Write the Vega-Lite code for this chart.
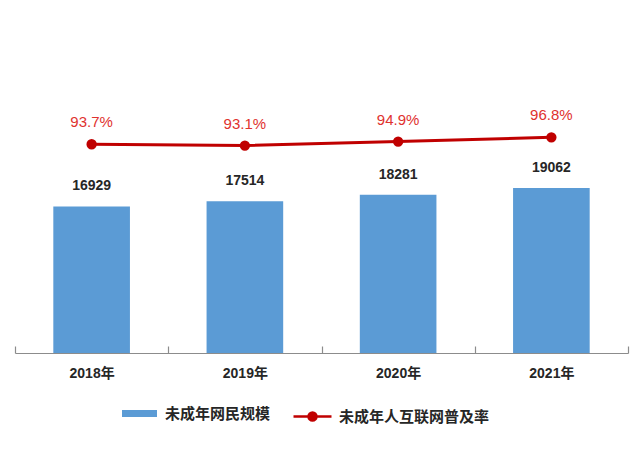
{
  "$schema": "https://vega.github.io/schema/vega-lite/v6.json",
  "autosize": {"type": "none"},
  "width": 613,
  "height": 313,
  "padding": {"left": 15, "top": 40, "right": 12, "bottom": 115},
  "background": "white",
  "config": {
    "view": {"stroke": null},
    "font": "Liberation Sans, Noto Sans CJK SC"
  },
  "data": {
    "values": [
      {"year": "2018年", "users": 16929, "rate": 93.7, "rateLabel": "93.7%"},
      {"year": "2019年", "users": 17514, "rate": 93.1, "rateLabel": "93.1%"},
      {"year": "2020年", "users": 18281, "rate": 94.9, "rateLabel": "94.9%"},
      {"year": "2021年", "users": 19062, "rate": 96.8, "rateLabel": "96.8%"}
    ]
  },
  "encoding": {
    "x": {
      "field": "year",
      "type": "nominal",
      "sort": null,
      "scale": {"paddingInner": 0, "paddingOuter": 0},
      "axis": {
        "title": null,
        "labelAngle": 0,
        "ticks": true,
        "tickBand": "extent",
        "tickSize": -7,
        "tickColor": "#8c8c8c",
        "tickWidth": 1.2,
        "domainColor": "#8c8c8c",
        "domainWidth": 1.2,
        "labelPadding": 20,
        "labelFontSize": 14,
        "labelFontWeight": "bold",
        "labelColor": "#262626",
        "labelFont": "Liberation Sans, Noto Sans CJK SC"
      }
    }
  },
  "layer": [
    {
      "layer": [
        {
          "mark": {"type": "bar", "color": "#5b9bd5", "width": {"band": 0.5}},
          "encoding": {
            "y": {"field": "users", "type": "quantitative", "scale": {"domain": [0, 36150], "nice": false}, "axis": null},
            "fill": {
              "datum": "未成年网民规模",
              "type": "nominal",
              "scale": {"range": ["#5b9bd5"]},
              "legend": {
                "title": null,
                "orient": "none",
                "legendX": 107,
                "legendY": 356,
                "symbolType": "M-1,-0.2H1V0.2H-1Z",
                "symbolSize": 1225,
                "symbolStrokeWidth": 0,
                "labelFontSize": 15,
                "labelFontWeight": "bold",
                "labelColor": "#262626",
                "labelFont": "Noto Sans CJK SC",
                "labelOffset": 8,
                "padding": 0
              }
            }
          }
        },
        {
          "mark": {"type": "text", "dy": -20, "fontSize": 14, "fontWeight": "bold", "color": "#262626", "baseline": "middle"},
          "encoding": {
            "y": {"field": "users", "type": "quantitative"},
            "text": {"field": "users", "type": "nominal"}
          }
        }
      ]
    },
    {
      "layer": [
        {
          "mark": {"type": "line", "strokeWidth": 3, "point": {"filled": true, "size": 70, "color": "#c00000"}},
          "encoding": {
            "y": {"field": "rate", "type": "quantitative", "scale": {"domain": [0, 140.5], "nice": false}, "axis": null},
            "stroke": {
              "datum": "未成年人互联网普及率",
              "type": "nominal",
              "scale": {"range": ["#c00000"]},
              "legend": {
                "title": null,
                "orient": "none",
                "legendX": 277,
                "legendY": 356,
                "symbolType": "M-1,0H1M0.21,0A0.21,0.21,0,1,1,-0.21,0A0.21,0.21,0,1,1,0.21,0",
                "symbolSize": 1444,
                "symbolStrokeWidth": 2.5,
                "symbolFillColor": "#c00000",
                "labelFontSize": 15,
                "labelFontWeight": "bold",
                "labelColor": "#262626",
                "labelFont": "Noto Sans CJK SC",
                "labelOffset": 6,
                "padding": 0
              }
            }
          }
        },
        {
          "mark": {"type": "text", "dy": -22, "fontSize": 15, "color": "#e0322e", "baseline": "middle"},
          "encoding": {
            "y": {"field": "rate", "type": "quantitative"},
            "text": {"field": "rateLabel", "type": "nominal"}
          }
        }
      ]
    }
  ],
  "resolve": {"scale": {"y": "independent"}}
}
